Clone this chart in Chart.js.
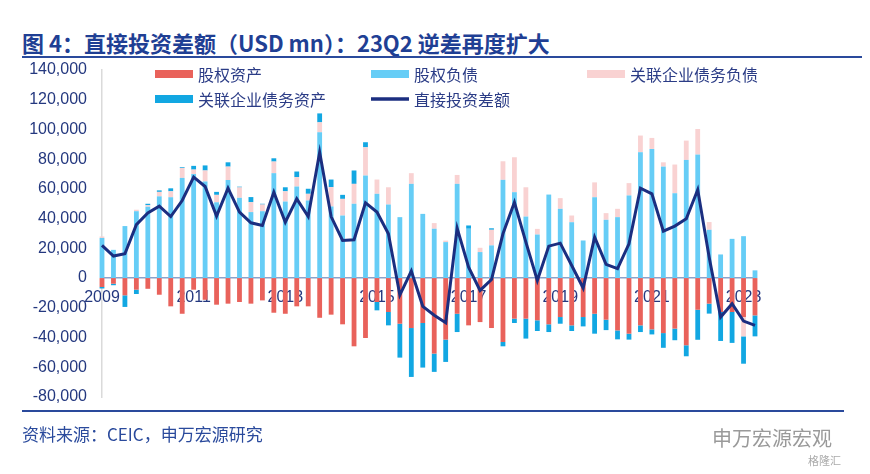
<!DOCTYPE html>
<html>
<head>
<meta charset="utf-8">
<script src="https://cdn.jsdelivr.net/npm/chart.js@4.4.0/dist/chart.umd.min.js"></script>
<style>
  html, body { margin: 0; padding: 0; background: #fff; }
  body { width: 870px; height: 474px; position: relative; overflow: hidden; }
  #title { position: absolute; left: 22px; top: 26px; font: bold 22px "Noto Sans CJK SC", sans-serif; color: #1F3F94; white-space: nowrap; }
  .rule { position: absolute; left: 22px; background: #2A4A9C; }
  #source { position: absolute; left: 22px; top: 421px; font: 17px "Noto Sans CJK SC", sans-serif; color: #2A4A9C; white-space: nowrap; }
  #mark { position: absolute; left: 712px; top: 423px; font: 20px "Noto Sans CJK SC", sans-serif; color: #9a9a9a; white-space: nowrap; }
  #mark2 { position: absolute; left: 808px; top: 452px; font: 11px "Noto Sans CJK SC", sans-serif; color: #aaa; }
  canvas { position: absolute; left: 0; top: 0; }
</style>
</head>
<body>
<div id="title">图 4：直接投资差额（USD mn）：23Q2 逆差再度扩大</div>
<div class="rule" style="top:56px;width:840px;height:2px"></div>
<canvas id="chart" width="870" height="474"></canvas>
<div class="rule" style="top:410px;width:822px;height:2px"></div>
<div id="source">资料来源：CEIC，申万宏源研究</div>
<div id="mark">申万宏源宏观</div>
<div id="mark2">格隆汇</div>
<script>
// quarters 2009Q1 .. 2023Q2
const categories = [];
for (let y = 2009; y <= 2023; y++) {
  for (let q = 1; q <= 4; q++) {
    if (y === 2023 && q > 2) break;
    categories.push(y + "Q" + q);
  }
}
const yearTicks = ["2009", "2011", "2013", "2015", "2017", "2019", "2021", "2023"];

// 股权资产
const equityAssets = [
  -6000, -3800, -11600, -7800, -7200, -11200, -19000, -24000,
  -7800, -14600, -17900, -17200, -16100, -17200, -15000, -23300,
  -24000, -19000, -19000, -26700, -24600, -31100, -45900, -40300,
  -16100, -22800, -30700, -33600, -30200, -50800, -41400, -24000,
  -31800, -29600, -33600, -43000, -27300, -27300, -28400, -31100,
  -26200, -31800, -26200, -24000, -28000, -35200, -37400, -31800,
  -34500, -37000, -34000, -45200, -21300, -17200, -22800, -22800,
  -26200, -25100
];
// 股权负债
const equityLiabilities = [
  27000, 19000, 35000, 45000, 48000, 55000, 54400, 67400,
  70000, 65000, 51000, 66000, 54000, 44400, 45000, 70600,
  51500, 61600, 52200, 98100, 48200, 42100, 50000, 69000,
  56700, 49500, 41000, 63400, 43200, 33200, 24200, 63400,
  33200, 17500, 22000, 66100, 57800, 41400, 29300, 56200,
  46600, 37600, 25300, 54400, 39200, 41000, 55600, 84700,
  86900, 75000, 57100, 79500, 83100, 32500, 15900, 26400,
  28200, 5200
];
// 关联企业债务负债
const debtLiabilities = [
  1000, 0, 0, 1000, 1000, 3000, 4000, 6700,
  3000, 7400, 5000, 9000, 7000, 6700, 4500, 7800,
  6900, 6300, 4500, 6700, 13000, 11200, 13400, 19000,
  9600, 11600, 0, 7200, 0, 3800, 1000, 6000,
  0, 2900, 10500, 12500, 23500, 19700, 3800, 0,
  7200, 4500, 0, 10000, 4500, 5600, 8300, 11200,
  7400, 2900, 19300, 13000, 17200, 5200, 0, 0,
  -13000, 0
];
// 关联企业债务资产
const debtAssets = [
  -1000, -1000, -7800, -2900, 1000, 1000, 2000, 500,
  2500, 3400, 2000, 2900, 500, 3400, 500, 2200,
  2700, 3800, 3400, 6000, 5100, 2700, 9000, 3400,
  -5600, -9000, -22800, -32900, -30000, -12300, -15000, -12300,
  2200, 0, 1000, -2900, -2900, -13400, -7200, -5200,
  -4500, -3800, -6300, -13400, -7000, -6000, -4000, -4500,
  -3400, -9900, -7800, -7400, -20200, -6700, -19500, -20800,
  -18400, -14100
];
// 直接投资差额
const netDirectInvestment = [
  22000, 14800, 16400, 36000, 43900, 48400, 41400, 52200,
  67900, 61600, 41700, 60500, 44400, 37200, 35400, 57800,
  37600, 53300, 41400, 84700, 41400, 25300, 25800, 50600,
  44400, 29800, -11400, 4700, -19000, -25000, -30000, 33600,
  7400, -8300, -1000, 29800, 51000, 24200, -1600, 21500,
  23500, 8500, -6700, 27500, 9200, 6300, 23100, 60500,
  56700, 31600, 35000, 39900, 59400, 14000, -26200, -17200,
  -28900, -31800
];

const textColor = "#24387F";
const numFont = { family: '"Liberation Sans", Arial, sans-serif', size: 16 };

// legend drawn at fixed spots: 3 columns, 2 rows
const legendSpots = [[155, 74], [371, 74], [587, 74], [155, 99], [371, 99]];
const fixedLegend = {
  id: "fixedLegend",
  afterDraw(chart) {
    const c = chart.ctx;
    chart.data.datasets.forEach((ds, i) => {
      const [x, y] = legendSpots[i];
      c.save();
      if (ds.type === "line") {
        c.strokeStyle = ds.borderColor;
        c.lineWidth = 3.5;
        c.beginPath();
        c.moveTo(x, y);
        c.lineTo(x + 38, y);
        c.stroke();
      } else {
        c.fillStyle = ds.backgroundColor;
        c.fillRect(x, y - 4, 38, 8);
      }
      c.fillStyle = "#2B3C86";
      c.font = '16px "Noto Sans CJK SC", sans-serif';
      c.textBaseline = "middle";
      c.fillText(ds.label, x + 43, y + 1);
      c.restore();
    });
  }
};

const ctx = document.getElementById("chart").getContext("2d");
new Chart(ctx, {
  type: "bar",
  data: {
    labels: categories,
    datasets: [
      { label: "股权资产", data: equityAssets, backgroundColor: "#E9625B", stack: "flows", clip: false },
      { label: "股权负债", data: equityLiabilities, backgroundColor: "#66CDF6", stack: "flows", clip: false },
      { label: "关联企业债务负债", data: debtLiabilities, backgroundColor: "#F9D2D2", stack: "flows", clip: false },
      { label: "关联企业债务资产", data: debtAssets, backgroundColor: "#12A7E2", stack: "flows", clip: false },
      {
        type: "line", label: "直接投资差额", data: netDirectInvestment,
        borderColor: "#1B2E80", borderWidth: 3, pointRadius: 0, tension: 0,
        stack: "net", order: -1, clip: false
      }
    ]
  },
  options: {
    responsive: false,
    animation: false,
    barPercentage: 0.42,
    categoryPercentage: 1,
    layout: { padding: { top: 70, bottom: 77, left: 0, right: 115 } },
    plugins: { legend: { display: false }, tooltip: { enabled: false } },
    scales: {
      x: {
        stacked: true,
        position: { y: 0 },
        offset: false,
        z: 1,
        grid: { display: false, drawTicks: false },
        border: { display: true, color: "#8CA2CB", width: 1.5 },
        ticks: {
          autoSkip: false, minRotation: 0, maxRotation: 0, padding: 10,
          color: textColor, font: numFont,
          callback: (v, i) => {
            const c = categories[i];
            return c.endsWith("Q1") && yearTicks.includes(c.slice(0, 4)) ? c.slice(0, 4) : "";
          }
        },
        afterFit: s => { s.height = 0; }
      },
      y: {
        stacked: true,
        min: -80000,
        max: 140000,
        grid: { display: false, drawTicks: false },
        border: { color: "#DADADA", width: 1.5 },
        ticks: {
          stepSize: 20000, padding: 15, color: textColor, font: numFont,
          callback: v => v.toLocaleString("en-US")
        },
        afterFit: s => { s.width = 102; }
      }
    }
  },
  plugins: [fixedLegend]
});
</script>
</body>
</html>
